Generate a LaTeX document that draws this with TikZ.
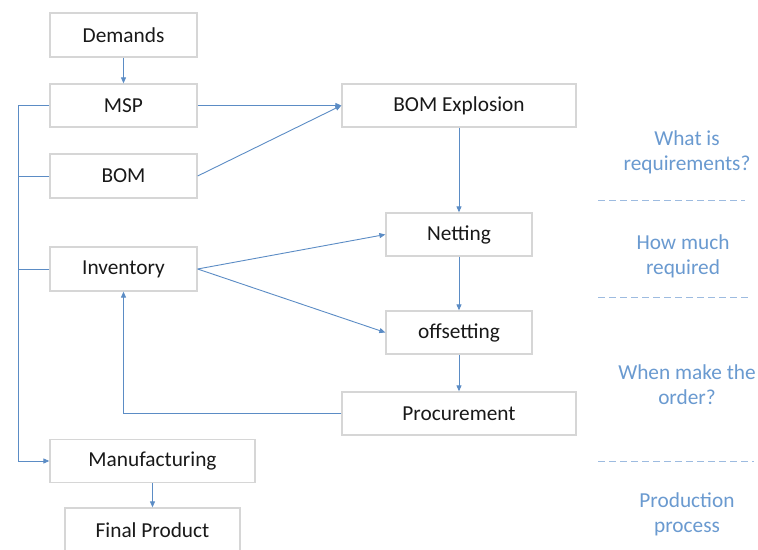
\documentclass[tikz,border=0pt]{standalone}
\usepackage{fontspec}
\setmainfont{Carlito}
\usetikzlibrary{arrows.meta}
\definecolor{boxgray}{HTML}{D6D6D6}
\definecolor{linkblue}{HTML}{5B8CC5}
\definecolor{noteblue}{HTML}{6A9AD0}
\definecolor{dashblue}{HTML}{9DBBE0}
\tikzset{
  box/.style={draw=boxgray, line width=1.3pt, fill=white, inner sep=0pt,
    font=\fontsize{21.4}{25}\selectfont, text=black!90},
  link/.style={draw=linkblue, line width=0.9pt, -{Triangle[length=6bp,width=5bp]}},
  plain/.style={draw=linkblue, line width=0.9pt},
  note/.style={align=center, text=noteblue, font=\fontsize{21.4}{25}\selectfont, inner sep=0pt},
  sep/.style={draw=dashblue, line width=0.9pt, dash pattern=on 7bp off 4bp}
}
\begin{document}
\begin{tikzpicture}[x=1bp,y=-1bp]
\useasboundingbox (0,0) rectangle (758,550);
\clip (0,0) rectangle (758,550);
\fill[white] (0,0) rectangle (758,550);

\node[box, minimum width=147bp, minimum height=44bp] (dem) at (123.5,35) {Demands};
\node[box, minimum width=147bp, minimum height=43bp] (msp) at (123.5,105.5) {MSP};
\node[box, minimum width=147bp, minimum height=44bp] (bom) at (123.5,176) {BOM};
\node[box, minimum width=147bp, minimum height=44bp] (inv) at (123.5,269) {Inventory};
\node[box, minimum width=234bp, minimum height=43bp] (exp) at (459,105.5) {BOM Explosion};
\node[box, minimum width=146bp, minimum height=43bp] (net) at (459,234.5) {Netting};
\node[box, minimum width=146bp, minimum height=43bp] (off) at (459,332.5) {offsetting};
\node[box, minimum width=234bp, minimum height=43bp] (pro) at (459,413.5) {Procurement};
\node[box, minimum width=205bp, minimum height=43bp] (man) at (152.5,461) {Manufacturing};
\node[box, minimum width=175bp, minimum height=44bp] (fin) at (152.5,530) {Final Product};

\coordinate (ltop) at (18,105.5);
\coordinate (lbot) at (18,461);

\draw[link] (dem) -- (msp);
\draw[link] (msp.east) -- (exp.west);
\draw[link] (bom.east) -- (exp.west);
\draw[link] (exp) -- (net);
\draw[link] (net) -- (off);
\draw[link] (off) -- (pro);
\draw[link] (inv.east) -- (net.west);
\draw[link] (inv.east) -- (off.west);
\draw[link] (pro.west) -| (inv.south);
\draw[plain] (msp.west) -- (ltop) -- (lbot);
\draw[link] (lbot) -- (man.west);
\draw[plain] (bom.west) -- (bom.west -| ltop);
\draw[plain] (inv.west) -- (inv.west -| ltop);
\draw[link] (man) -- (fin);

\node[note] (n1) at (687,152.5) {What is\\requirements?};
\node[note] (n2) at (683,256) {How much\\required};
\node[note] (n3) at (687,384.5) {When make the\\order?};
\node[note] (n4) at (687,514) {Production\\process};

\coordinate (d1a) at (598,200); \coordinate (d1b) at (745,200);
\coordinate (d2a) at (598,297); \coordinate (d2b) at (752,297);
\coordinate (d3a) at (598,461); \coordinate (d3b) at (754,461);
\draw[sep] (d1a) -- (d1b);
\draw[sep] (d2a) -- (d2b);
\draw[sep] (d3a) -- (d3b);
\end{tikzpicture}
\end{document}
